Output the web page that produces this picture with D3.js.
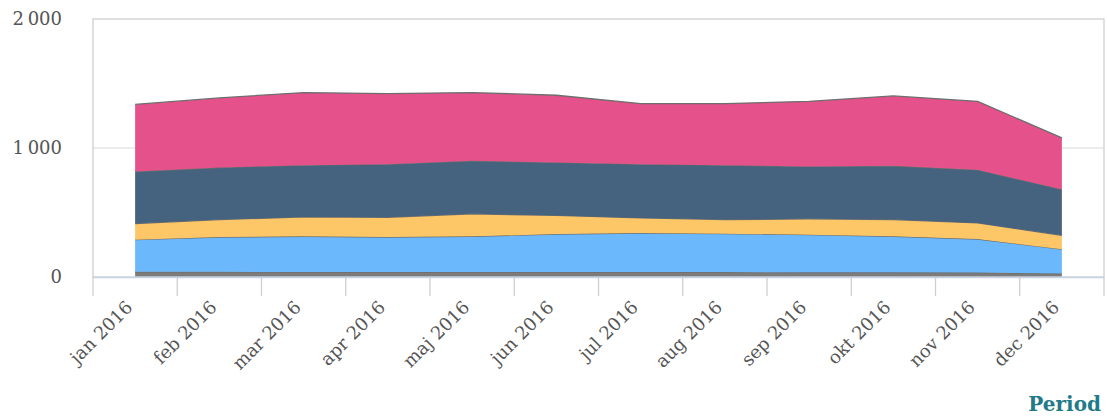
<!DOCTYPE html>
<html>
<head>
<meta charset="utf-8">
<script src="https://cdn.jsdelivr.net/npm/d3@7"></script>
<style>
    body { margin: 0; background: #fff; }
    svg text { font-family: "DejaVu Serif", serif; }
</style>
</head>
<body>
<div id="chart"></div>
<script>
var months = ["jan 2016", "feb 2016", "mar 2016", "apr 2016", "maj 2016", "jun 2016",
              "jul 2016", "aug 2016", "sep 2016", "okt 2016", "nov 2016", "dec 2016"];

// series, bottom to top
var serieGra = [40, 40, 38, 38, 38, 38, 38, 38, 36, 36, 34, 27];
var serieLjusbla = [249, 270, 277, 272, 277, 295, 303, 298, 292, 279, 260, 189];
var serieGul = [125, 135, 151, 153, 175, 144, 117, 109, 123, 130, 125, 107];
var serieMorkbla = [404, 404, 401, 412, 411, 411, 417, 422, 406, 417, 412, 357];
var serieRosa = [520, 539, 563, 547, 529, 521, 469, 477, 505, 542, 531, 398];

var yTicks = [0, 1000, 2000];

var seriesKeys = ["gra", "ljusbla", "gul", "morkbla", "rosa"];
var seriesColors = { gra: "#7b7b7b", ljusbla: "#6cb8fc", gul: "#fdc768", morkbla: "#45627e", rosa: "#e5518a" };

var width = 1107, height = 417;
var plotLeft = 93, plotRight = 1104, plotTop = 19, plotBottom = 277;

var rows = months.map(function (m, i) {
    return {
        month: m,
        gra: serieGra[i],
        ljusbla: serieLjusbla[i],
        gul: serieGul[i],
        morkbla: serieMorkbla[i],
        rosa: serieRosa[i]
    };
});

var svg = d3.select("#chart").append("svg")
    .attr("width", width)
    .attr("height", height);

var x = d3.scaleBand().domain(months).range([plotLeft, plotRight]).padding(0);
var y = d3.scaleLinear().domain([0, 2000]).range([plotBottom, plotTop]);

function xc(m) { return x(m) + x.bandwidth() / 2; }

// grid
svg.append("g").selectAll("line")
    .data(yTicks.filter(function (t) { return t > 0 && t < 2000; }))
    .enter().append("line")
    .attr("x1", plotLeft).attr("x2", plotRight)
    .attr("y1", function (d) { return y(d); })
    .attr("y2", function (d) { return y(d); })
    .attr("stroke", "#d8d8d8").attr("stroke-width", 1);

// stacked areas
var stacked = d3.stack().keys(seriesKeys)(rows);

var area = d3.area()
    .x(function (d) { return xc(d.data.month); })
    .y0(function (d) { return y(d[0]); })
    .y1(function (d) { return y(d[1]); });

var topLine = d3.line()
    .x(function (d) { return xc(d.data.month); })
    .y(function (d) { return y(d[1]); });

var layers = svg.append("g").selectAll("g")
    .data(stacked)
    .enter().append("g");

layers.append("path")
    .attr("d", area)
    .attr("fill", function (d) { return seriesColors[d.key]; });

layers.append("path")
    .attr("d", topLine)
    .attr("fill", "none")
    .attr("stroke", "#6e6e6e")
    .attr("stroke-width", 1.3);

// frame
svg.append("rect")
    .attr("x", plotLeft).attr("y", plotTop)
    .attr("width", plotRight - plotLeft).attr("height", plotBottom - plotTop)
    .attr("fill", "none").attr("stroke", "#cfcfcf").attr("stroke-width", 1.3);

// x axis
var xAxis = d3.axisBottom(x).tickSize(0).tickPadding(0);
var gx = svg.append("g")
    .attr("transform", "translate(0," + plotBottom + ")")
    .call(xAxis);
gx.select(".domain").attr("stroke", "#c8d2e4").attr("stroke-width", 1.3);

var boundaries = months.map(function (m) { return x(m); }).concat([plotRight]);
gx.selectAll(".bnd").data(boundaries).enter().append("line")
    .attr("class", "bnd")
    .attr("x1", function (d) { return d; }).attr("x2", function (d) { return d; })
    .attr("y1", 0).attr("y2", 19)
    .attr("stroke", "#cfcfcf").attr("stroke-width", 1.3);

gx.selectAll(".tick text")
    .attr("font-size", 18)
    .attr("fill", "#555")
    .attr("text-anchor", "end")
    .attr("transform", "translate(-6,27) rotate(-45)")
    .attr("dy", "0.35em");

// y axis labels
var yAxis = d3.axisLeft(y).tickValues(yTicks).tickSize(0).tickPadding(31)
    .tickFormat(function (d) { return d3.format(",")(d).replace(/,/g, "\u2009"); });
var gy = svg.append("g")
    .attr("transform", "translate(" + plotLeft + ",0)")
    .call(yAxis);
gy.select(".domain").remove();
gy.selectAll(".tick text")
    .attr("font-size", 18)
    .attr("fill", "#555");

// axis title
svg.append("text")
    .attr("x", 1101).attr("y", 411)
    .attr("text-anchor", "end")
    .attr("font-size", 20)
    .attr("font-weight", "bold")
    .attr("fill", "#1f7b88")
    .text("Period");
</script>
</body>
</html>
